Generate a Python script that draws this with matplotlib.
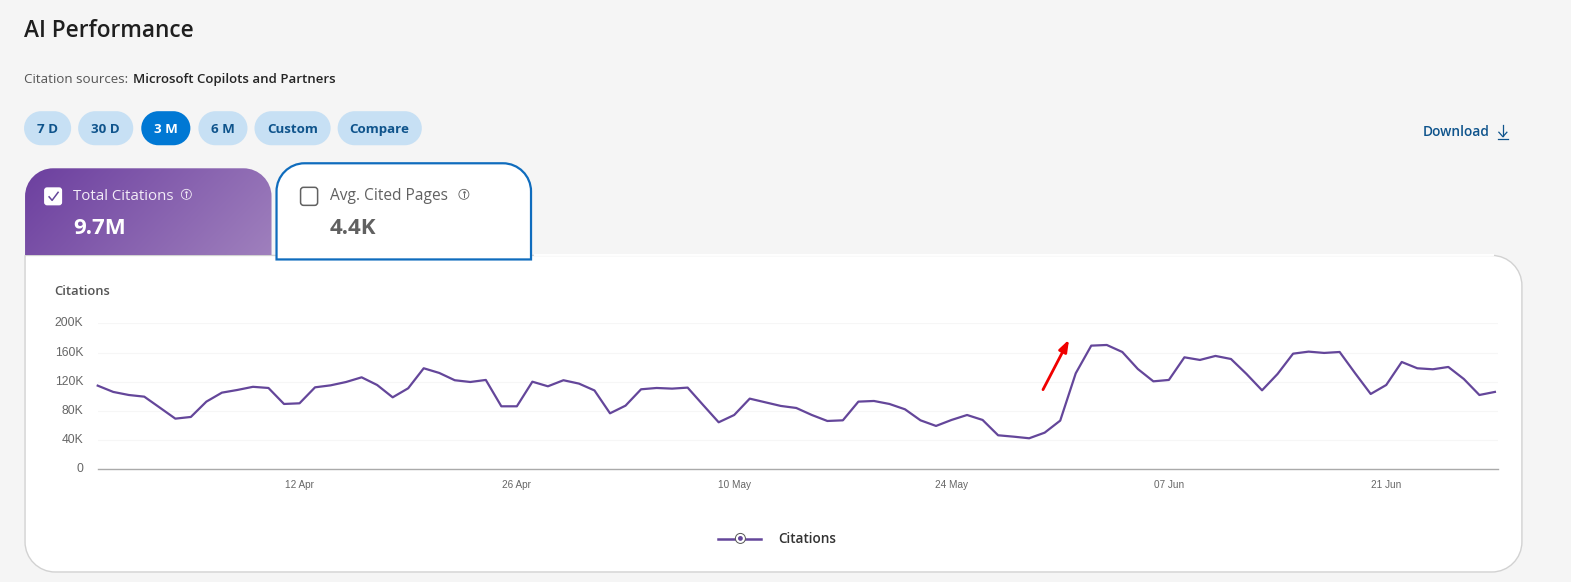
import matplotlib
matplotlib.use('Agg')
import numpy as np
import pandas as pd
import matplotlib.pyplot as plt
import matplotlib.dates as mdates
from matplotlib.patches import Circle, FancyBboxPatch, PathPatch
from matplotlib.path import Path

# citations per day, in thousands
start_date = '2025-03-30'
citations = [
    114.6, 106, 101.8, 99.5, 84.5, 69.4, 71.7, 92.7, 105, 108.7,
    113, 111.4, 89.5, 90.4, 112.3, 115, 119.6, 126, 115.5, 98.6,
    111, 138.4, 132, 122, 119.6, 122.4, 86.3, 86.3, 120, 113.7,
    122, 117.4, 108, 76.7, 87.2, 109.6, 111.4, 110.5, 111.9, 88,
    64.4, 74.4, 96.8, 91.8, 86.8, 84, 74.4, 66.2, 67.1, 92.7,
    93.6, 89.5, 82.2, 67.1, 59.4, 67.6, 74.4, 67.6, 46.6, 44.7,
    42.5, 50.2, 66.7, 131.5, 169.4, 170.3, 160.7, 137.4, 120.5, 122.4,
    153.4, 149.8, 155.3, 151.1, 130.6, 108.2, 130.6, 158.4, 161.2, 159.4,
    160.7, 131.5, 103.2, 115.5, 147, 138.4, 137, 140.2, 123.7, 101.8,
    106,
]
y_ticks = [0, 40, 80, 120, 160, 200]
y_tick_labels = ['0', '40K', '80K', '120K', '160K', '200K']
x_tick_first = '2025-04-12'
x_tick_count = 6
pills = ['7 D', '30 D', '3 M', '6 M', 'Custom', 'Compare']
pill_selected = '3 M'

W, H = 1571, 582
# page furniture was measured on a 1568 wide view of the screenshot
UI_W, UI_H = 1568, 581
UI_FONT = ['Open Sans', 'DejaVu Sans']
CHART_FONT = ['Liberation Sans', 'DejaVu Sans']
PURPLE = '#64469a'
BLUE = '#0f6cbd'
NAVY = '#0f548c'


def rounded(x0, y0, x1, y1, tl, tr, br, bl):
    # closed path with its own radius per corner, y pointing down
    k = 0.5523
    verts = [(x0 + tl, y0), (x1 - tr, y0),
             (x1 - tr + k * tr, y0), (x1, y0 + tr - k * tr), (x1, y0 + tr),
             (x1, y1 - br),
             (x1, y1 - br + k * br), (x1 - br + k * br, y1), (x1 - br, y1),
             (x0 + bl, y1),
             (x0 + bl - k * bl, y1), (x0, y1 - bl + k * bl), (x0, y1 - bl),
             (x0, y0 + tl),
             (x0, y0 + tl - k * tl), (x0 + tl - k * tl, y0), (x0 + tl, y0),
             (x0 + tl, y0)]
    codes = [Path.MOVETO, Path.LINETO,
             Path.CURVE4, Path.CURVE4, Path.CURVE4,
             Path.LINETO,
             Path.CURVE4, Path.CURVE4, Path.CURVE4,
             Path.LINETO,
             Path.CURVE4, Path.CURVE4, Path.CURVE4,
             Path.LINETO,
             Path.CURVE4, Path.CURVE4, Path.CURVE4,
             Path.CLOSEPOLY]
    return Path(verts, codes)


def label(x, y, s, size, color, weight='normal', ha='left'):
    # Open Sans sits a little high with va=center
    return ui.text(x, y + 1.7, s, fontsize=size, color=color, fontweight=weight,
                   ha=ha, va='center', family=UI_FONT)


def info_icon(x, y, color):
    ui.add_patch(Circle((x, y), 5, fill=False, ec=color, lw=0.6))
    ui.plot([x, x], [y - 0.8, y + 2.6], color=color, lw=0.7)
    ui.plot([x], [y - 2.4], marker='o', ms=0.8, color=color)


fig = plt.figure(figsize=(W / 100, H / 100), dpi=100, facecolor='#f5f5f5')

ui = fig.add_axes([0, 0, 1, 1], zorder=0)
ui.set_axis_off()

label(24, 29, 'AI Performance', 16.3, '#1f1f1f', 'semibold')
label(24, 78, 'Citation sources:', 9.6, '#555555')
label(133, 78, 'Microsoft Copilots and Partners', 9.5, '#242424', 'semibold')

pill_edges = [(24, 71), (78, 133), (141, 190), (198, 247), (254, 330), (337, 421)]
for name, (x0, x1) in zip(pills, pill_edges):
    on = name == pill_selected
    ui.add_patch(PathPatch(rounded(x0, 111, x1, 145, 17, 17, 17, 17),
                           fc='#0078d4' if on else '#c7e0f4', ec='none'))
    label((x0 + x1) / 2, 127.5, name, 9.6, 'white' if on else NAVY, 'bold', ha='center')

label(1420, 130.5, 'Download', 9.9, NAVY, 'semibold')
ui.plot([1500, 1500], [125, 136], color=NAVY, lw=0.9)
ui.plot([1496, 1500, 1504], [132, 136.5, 132], color=NAVY, lw=0.9)
ui.plot([1495, 1505], [139, 139], color=NAVY, lw=0.9)

# white card behind the chart, its top edge has no visible border
ui.add_patch(PathPatch(rounded(25, 255, 1519, 571, 0, 30, 30, 30),
                       fc='white', ec='#d2d2d2', lw=1))
ui.plot([534, 1490], [255, 255], color='white', lw=1.4)

# purple tab with its gradient
tab = PathPatch(rounded(25, 168, 271, 255, 28, 28, 0, 0), fc='none', ec='none')
ui.add_patch(tab)
gx, gy = np.meshgrid(np.linspace(0, 1, 246), np.linspace(0, 1, 87))
grad = ui.imshow(0.75 * gx + 0.25 * gy, extent=[25, 271, 255, 168], aspect='auto',
                 cmap=matplotlib.colors.LinearSegmentedColormap.from_list(
                     'tab', ['#6c3f9f', '#9f80bd']), zorder=1)
grad.set_clip_path(tab)

ui.add_patch(FancyBboxPatch((44, 187), 18, 18, boxstyle='round,pad=0,rounding_size=3',
                            fc='white', ec='none', zorder=2))
ui.plot([49, 52, 58], [196.5, 200, 192], color=PURPLE, lw=1.1, zorder=3)
label(73, 194, 'Total Citations', 10.8, '#f2ecf7').set_zorder(3)
label(73, 226, '9.7M', 16, 'white', 'bold').set_zorder(3)
info_icon(186, 194, '#f2ecf7')

# outlined tab, drawn above the white line so its corner stays blue
ui.add_patch(PathPatch(rounded(276, 163, 530, 259, 28, 28, 0, 0),
                       fc='white', ec=BLUE, lw=1.6, zorder=3))
ui.add_patch(FancyBboxPatch((300, 187), 17, 18, boxstyle='round,pad=0,rounding_size=3',
                            fc='white', ec='#616161', lw=1.1, zorder=4))
label(329, 194, 'Avg. Cited Pages', 11.2, '#616161').set_zorder(4)
label(329, 226, '4.4K', 16, '#616161', 'bold').set_zorder(4)
info_icon(463, 194, '#616161')
for art in ui.patches[-1:] + ui.lines[-2:]:
    art.set_zorder(4)

label(54, 289, 'Citations', 9.4, '#555555', 'semibold')

# legend
ui.plot([717, 760], [538, 538], color=PURPLE, lw=1.8, zorder=2)
ui.add_patch(Circle((739, 537.5), 5, fc='white', ec='#555555', lw=0.7, zorder=3))
ui.add_patch(Circle((739, 537.5), 2.4, fc=PURPLE, ec='none', zorder=4))
label(777, 536.5, 'Citations', 9.8, '#333333', 'semibold')

ui.set_xlim(0, UI_W)
ui.set_ylim(UI_H, 0)

# the chart itself
left, right, top, bottom = 97.7, 1498, 323.3, 469.3
ax = fig.add_axes([left / W, 1 - bottom / H, (right - left) / W, (bottom - top) / H], zorder=1)
ax.patch.set_alpha(0)
dates = pd.date_range(start_date, periods=len(citations), freq='D')
ax.plot(dates, citations, color=PURPLE, lw=1.6, solid_joinstyle='round', clip_on=False, zorder=3)

ax.set_xlim(dates[0], dates[0] + pd.Timedelta(days=len(citations) - 1 + 0.2))
ax.set_ylim(0, 200)
ax.set_yticks(y_ticks)
ax.set_yticklabels(y_tick_labels, family=CHART_FONT, fontsize=8.7, color='#666666', va='center')
ax.set_xticks(pd.date_range(x_tick_first, periods=x_tick_count, freq='14D'))
ax.xaxis.set_major_formatter(mdates.DateFormatter('%d %b'))
for t in ax.get_xticklabels():
    t.set_family(CHART_FONT)
    t.set_fontsize(7.2)
    t.set_color('#666666')
ax.tick_params(axis='y', length=0, pad=10.5)
ax.tick_params(axis='x', length=0, pad=7.5)
ax.grid(axis='y', color='#f6f6f6', lw=0.8)
ax.set_axisbelow(True)
for side in ['top', 'left', 'right']:
    ax.spines[side].set_visible(False)
ax.spines['bottom'].set_color('#aaaaaa')
ax.spines['bottom'].set_linewidth(1)

# red arrow drawn over the screenshot, above the chart gridlines
top_layer = fig.add_axes([0, 0, 1, 1], zorder=2)
top_layer.set_axis_off()
top_layer.patch.set_alpha(0)
top_layer.set_xlim(0, UI_W)
top_layer.set_ylim(UI_H, 0)
top_layer.annotate('', xy=(1067, 339), xytext=(1041, 389),
                   arrowprops=dict(arrowstyle='-|>,head_width=0.25,head_length=0.7',
                                   color='#f00000', lw=2, shrinkA=0, shrinkB=0))

fig.savefig('out.png', dpi=100, facecolor=fig.get_facecolor())
